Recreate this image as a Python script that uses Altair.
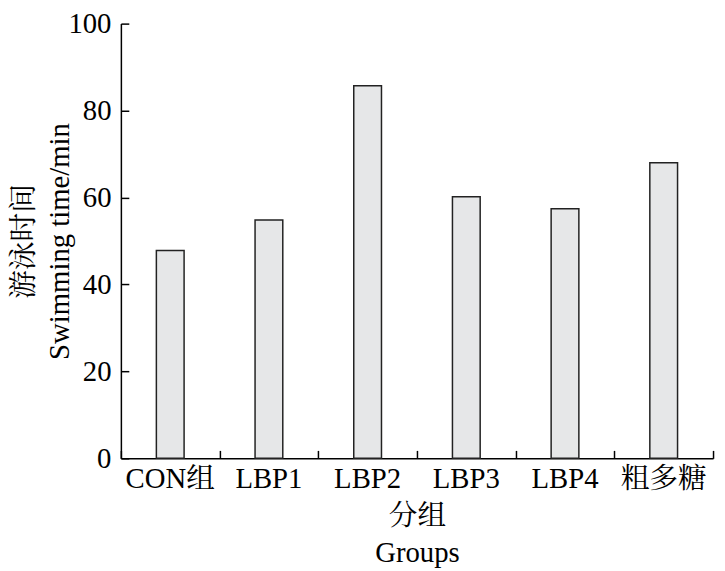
import altair as alt
import pandas as pd

groups = ["CON组", "LBP1", "LBP2", "LBP3", "LBP4", "粗多糖"]
swim_time = [47.8, 54.8, 85.7, 60.2, 57.4, 68.0]
y_ticks = [0, 20, 40, 60, 80, 100]

df = pd.DataFrame({"group": groups, "time": swim_time})

FONT = "Liberation Serif, Times New Roman, Noto Serif CJK SC, Noto Sans CJK SC"
W, H = 598, 439
FS = 29

xs = alt.Scale(domain=groups, paddingInner=0, paddingOuter=0)
ys = alt.Scale(domain=[0, 100], nice=False)

bars = alt.Chart(df).mark_bar(size=28, color="#e6e7e8", stroke="#222222", strokeWidth=1.5).encode(
    x=alt.X("group:N", sort=groups, scale=xs,
            axis=alt.Axis(title=["分组", "Groups"], ticks=False, labelAngle=0,
                          labelFont=FONT, labelFontSize=FS, labelColor="black", labelPadding=6,
                          titleFont=FONT, titleFontSize=FS, titleFontWeight="normal", titleColor="black",
                          titlePadding=9, titleLineHeight=37,
                          domainColor="black", domainWidth=1.5, grid=False)),
    y=alt.Y("time:Q", scale=ys,
            axis=alt.Axis(values=y_ticks, ticks=False, title=["游泳时间", "Swimming time/min"],
                          labelFont=FONT, labelFontSize=FS, labelColor="black", labelPadding=10,
                          titleFont=FONT, titleFontSize=FS, titleFontWeight="normal", titleColor="black",
                          titleX=-83, titleLineHeight=36,
                          domainColor="black", domainWidth=1.5, grid=False)),
)

tick_layer = alt.Chart(df).mark_bar(opacity=0).encode(
    x=alt.X("group:N", sort=groups, scale=xs,
            axis=alt.Axis(orient="top", offset=-H, labels=False, domain=False, tickSize=8,
                          tickBand="extent", tickColor="black", tickWidth=1.5, title=None, grid=False)),
    y=alt.Y("time:Q", scale=ys,
            axis=alt.Axis(orient="right", offset=-W, labels=False, domain=False, values=y_ticks,
                          tickSize=8, tickColor="black", tickWidth=1.5, title=None, grid=False)),
)

chart = (
    alt.layer(bars, tick_layer)
    .resolve_scale(x="independent", y="independent")
    .properties(width=W, height=H, background="white",
                autosize=alt.AutoSizeParams(type="none"),
                padding={"left": 114, "top": 13, "right": 4, "bottom": 110})
    .configure_view(stroke=None)
)

chart.save("out.html", embed_options={"renderer": "svg", "actions": False})
